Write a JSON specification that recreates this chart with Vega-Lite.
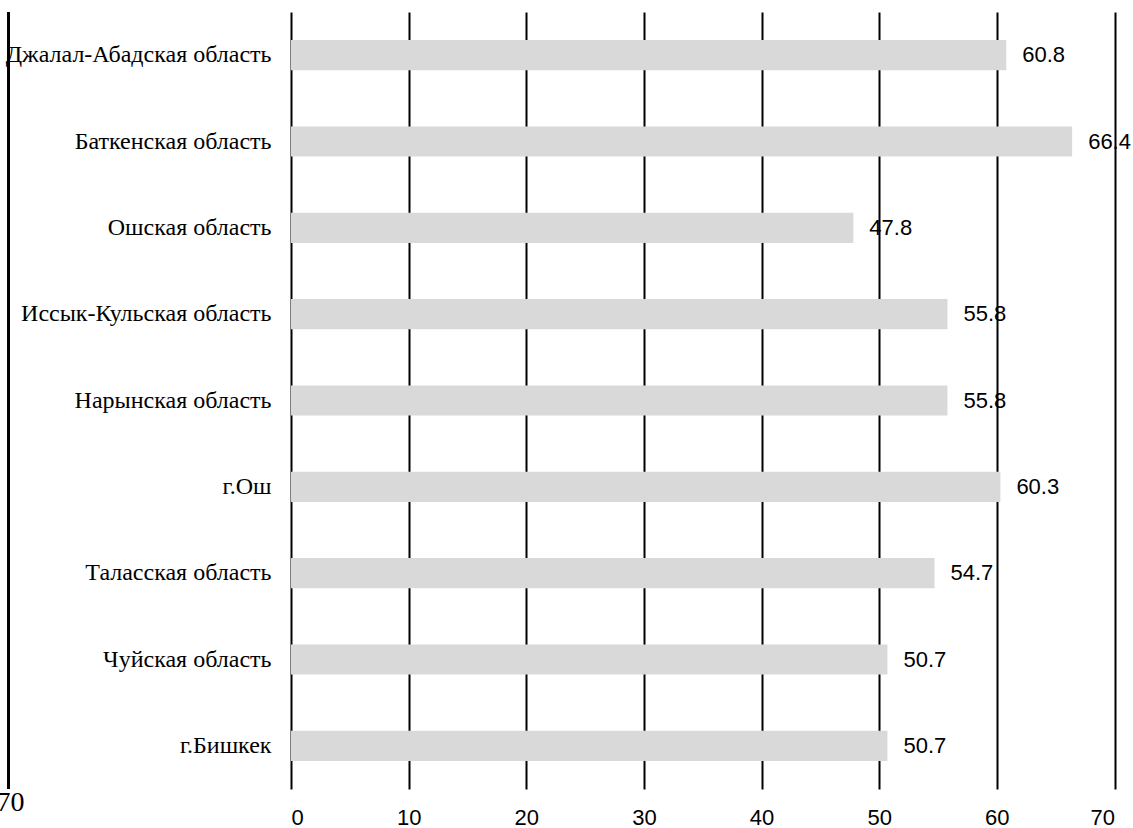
{
  "$schema": "https://vega.github.io/schema/vega-lite/v6.json",
  "width": 823.5,
  "height": 777,
  "autosize": {"type": "none"},
  "padding": {"left": 291, "top": 12, "right": 18.5, "bottom": 39},
  "background": "white",
  "config": {"view": {"stroke": null}},
  "data": {
    "values": [
      {"region": "Джалал-Абадская область", "value": 60.8},
      {"region": "Баткенская область", "value": 66.4},
      {"region": "Ошская область", "value": 47.8},
      {"region": "Иссык-Кульская область", "value": 55.8},
      {"region": "Нарынская область", "value": 55.8},
      {"region": "г.Ош", "value": 60.3},
      {"region": "Таласская область", "value": 54.7},
      {"region": "Чуйская область", "value": 50.7},
      {"region": "г.Бишкек", "value": 50.7}
    ]
  },
  "layer": [
    {
      "mark": {"type": "bar", "color": "#d9d9d9"},
      "encoding": {
        "y": {
          "field": "region",
          "type": "nominal",
          "sort": null,
          "scale": {"paddingInner": 0.65, "paddingOuter": 0.325},
          "axis": {
            "title": null,
            "domain": false,
            "ticks": false,
            "tickSize": 0,
            "grid": false,
            "labelPadding": 20,
            "labelFont": "Liberation Serif",
            "labelFontSize": 24,
            "labelColor": "black",
            "labelLimit": 400
          }
        },
        "x": {
          "field": "value",
          "type": "quantitative",
          "scale": {"domain": [0, 70], "nice": false, "zero": true},
          "axis": {
            "values": [0, 10, 20, 30, 40, 50, 60, 70],
            "domain": false,
            "ticks": false,
            "tickSize": 0,
            "grid": true,
            "gridColor": "black",
            "gridWidth": 2,
            "gridOpacity": 1,
            "labelPadding": 18,
            "labelFont": "Liberation Sans",
            "labelFontSize": 22,
            "labelColor": "black",
            "title": "70",
            "titleFont": "Liberation Serif",
            "titleFontSize": 28,
            "titleFontWeight": "normal",
            "titleColor": "black",
            "titleX": -281,
            "titleY": 21,
            "titleAlign": "center",
            "titleBaseline": "alphabetic"
          }
        }
      }
    },
    {
      "mark": {"type": "text", "align": "left", "baseline": "middle", "dx": 16, "font": "Liberation Sans", "fontSize": 22, "color": "black"},
      "encoding": {
        "y": {"field": "region", "type": "nominal", "sort": null},
        "x": {"field": "value", "type": "quantitative"},
        "text": {"field": "value", "type": "quantitative", "format": ".1f"}
      }
    },
    {
      "mark": {"type": "rule", "color": "black", "strokeWidth": 2},
      "encoding": {
        "x": {"datum": -24}
      }
    }
  ]
}
